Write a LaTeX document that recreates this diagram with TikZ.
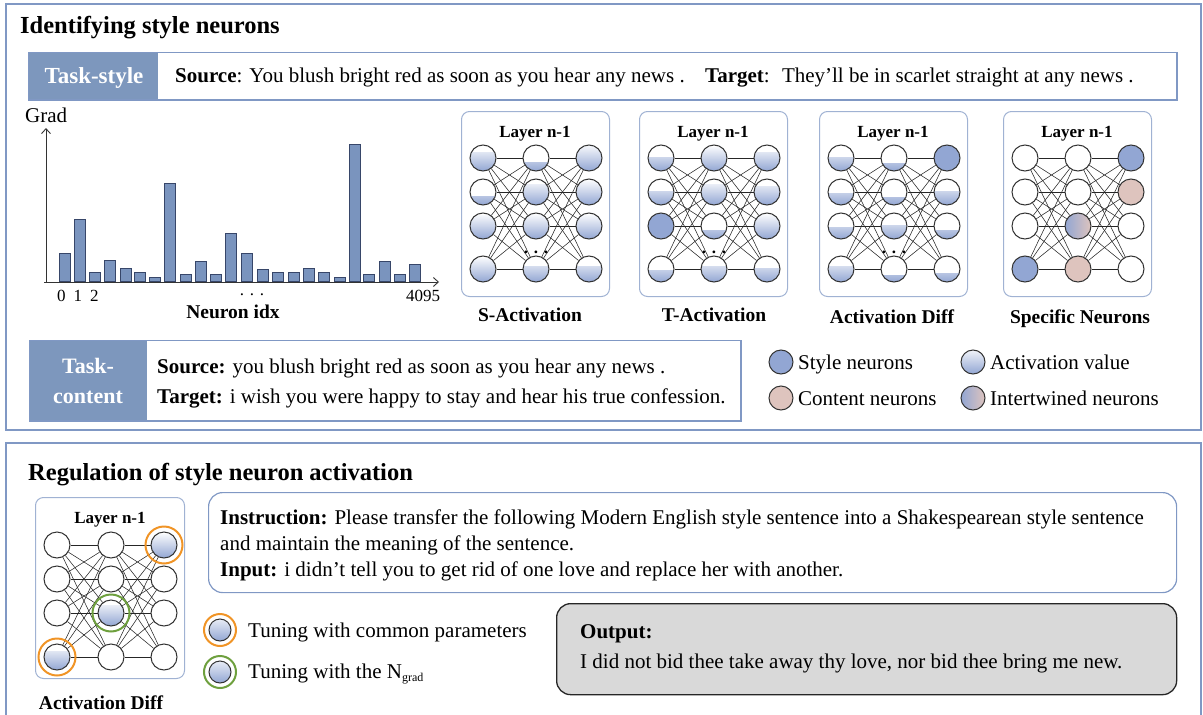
\documentclass[tikz,border=0pt]{standalone}
\usepackage{fontspec}
\setmainfont{Liberation Serif}
\definecolor{frameblue}{RGB}{128,152,196}
\definecolor{taskblue}{RGB}{125,151,189}
\definecolor{nblue}{RGB}{146,166,211}
\definecolor{npink}{RGB}{222,196,190}
\definecolor{barfill}{RGB}{122,148,190}
\definecolor{barline}{RGB}{55,70,105}
\definecolor{ringorange}{RGB}{240,148,38}
\definecolor{ringgreen}{RGB}{110,160,62}
\definecolor{outgray}{RGB}{217,217,217}
\newcommand{\fs}[1]{\fontsize{#1}{#1}\selectfont}
\tikzset{
  frame/.style={draw=frameblue, line width=1.2pt},
  tbox/.style={draw=frameblue, line width=1pt, fill=white, inner sep=0pt},
  tfill/.style={fill=taskblue, inner sep=0pt, text=white, font=\fs{22}\bfseries, align=center},
  netbox/.style={draw=frameblue!75, line width=1pt, rounded corners=8pt, inner sep=0pt},
  neu/.style={circle, draw=black!80, line width=1pt, minimum size=26pt, inner sep=0pt, fill=white},
  lv/.style={path picture={\shade[top color=white,bottom color=nblue] (path picture bounding box.south west) rectangle ([yshift={#1*24pt+4pt}]path picture bounding box.south east);}},
  wh/.style={},
  sty/.style={fill=nblue},
  cnt/.style={fill=npink},
  mix/.style={left color=nblue, right color=npink},
  apply/.style={#1},
  edge/.style={draw=black!85, line width=0.55pt},
  bar/.style={draw=barline, fill=barfill, line width=0.8pt},
  txt/.style={inner sep=0pt, anchor=base west, font=\fs{21}},
  lab/.style={inner sep=0pt, anchor=base, font=\fs{19.5}\bfseries},
  ring/.style={line width=2pt, draw=#1},
  axis/.style={line width=0.9pt, draw=black!80, -{Straight Barb[length=5pt,width=9pt]}},
}
\usetikzlibrary{arrows.meta}
\newcommand{\mynet}[4]{%
  \node[netbox, minimum width=148pt, minimum height=185pt, anchor=north west] (#1box) at (#2,#3) {};
  \node[inner sep=0pt, anchor=base, font=\fs{17}\bfseries] (#1lay) at (#2+74,#3+26) {Layer n-1};
  \foreach \nc/\nr/\nst in {#4} {
    \pgfmathsetmacro{\nx}{#2+{22,75,128}[\nc-1]}
    \pgfmathsetmacro{\ny}{#3+{47,81,115,158}[\nr-1]}
    \node[neu, apply/.expanded=\nst] (#1-\nc-\nr) at (\nx,\ny) {};
  }
  \foreach \i in {1,...,4}{\foreach \j in {1,...,4}{%
    \draw[edge] (#1-1-\i) -- (#1-2-\j);
    \draw[edge] (#1-2-\i) -- (#1-3-\j);}}
}
\begin{document}
\begin{tikzpicture}[x=1pt,y=-1pt]
\useasboundingbox (0,0) rectangle (1203,715);
% frames
\draw[frame] (6,4) rectangle (1201,430);
\draw[frame] (6,443) rectangle (1201,730);
\node[txt, font=\fs{24.5}\bfseries] (t1) at (20,33) {Identifying style neurons};
\node[txt, font=\fs{24.5}\bfseries] (t2) at (28,480) {Regulation of style neuron activation};

% task-style
\node[tbox, minimum width=1148pt, minimum height=47pt, anchor=north west] (tsbox) at (28,52) {};
\node[tfill, minimum width=130pt, minimum height=47pt, anchor=north west] (tslab) at (28,52) {};
\node[inner sep=0pt, anchor=base, text=white, font=\fs{23}\bfseries] (tstext) at (94,83) {Task-style};
\draw[draw=frameblue, line width=1pt] (tsbox.north west) rectangle (tsbox.south east);
\node[txt] (tssrc) at (175,82) {\textbf{Source}: You blush bright red as soon as you hear any news .};
\node[txt] (tstgt) at (705,82) {\textbf{Target}:~ They'll be in scarlet straight at any news .};

% bar chart
\coordinate (ax0) at (46,282);
\coordinate (ay1) at (46,128);
\coordinate (ax1) at (439,282);
\foreach \bx/\bt in {59/253, 74/219, 89/272, 104/260, 120/268, 134/272, 149/277, 164/183, 180/274, 195/261, 210/274, 225/233, 241/253, 257/269, 272/272, 288/272, 303/268, 318/272, 334/277, 349/144, 363/274, 379/261, 394/274, 409/264}
  \draw[bar] (\bx,281.5) rectangle (\bx+11.5,\bt);
\draw[axis] (ax0) -- (ay1);
\draw[axis] ([xshift=-2pt]ax0) -- (ax1);
\node[txt] (grad) at (25,122) {Grad};
\node[txt, font=\fs{17}] (x0) at (57,301) {0\hspace{8pt}1\hspace{8pt}2};
\node[inner sep=0pt, anchor=base, font=\fs{17}] (xd) at (252,295) {. . .};
\node[inner sep=0pt, anchor=base, font=\fs{17}] (x4) at (423,301) {4095};
\node[lab] (nidx) at (233,318) {Neuron idx};

% networks
\mynet{s}{461}{111}{1/1/lv=0.6, 1/2/lv=0.2, 1/3/lv=0.8, 1/4/lv=0.8, 2/1/lv=0.2, 2/2/lv=0.7, 2/3/lv=0.9, 2/4/lv=0.5, 3/1/lv=1, 3/2/lv=0.9, 3/3/lv=0.8, 3/4/lv=0.5}
\mynet{t}{639}{111}{1/1/lv=0.4, 1/2/lv=0.4, 1/3/sty, 1/4/lv=0.3, 2/1/lv=0.8, 2/2/lv=0.7, 2/3/lv=0.2, 2/4/lv=0.5, 3/1/lv=0.6, 3/2/lv=0.6, 3/3/lv=0.9, 3/4/lv=0.4}
\mynet{d}{819}{111}{1/1/lv=0.4, 1/2/lv=0.3, 1/3/lv=0.3, 1/4/lv=0.5, 2/1/lv=0.15, 2/2/lv=0.15, 2/3/lv=0.4, 2/4/lv=0.1, 3/1/sty, 3/2/lv=0.4, 3/3/lv=0.2, 3/4/lv=0.2}
\mynet{p}{1003}{111}{1/1/wh, 1/2/wh, 1/3/wh, 1/4/sty, 2/1/wh, 2/2/wh, 2/3/mix, 2/4/cnt, 3/1/sty, 3/2/cnt, 3/3/wh, 3/4/wh}
\foreach \nm/\xx in {s/536, t/714, d/894}
  \node[inner sep=0pt, anchor=base, font=\fs{17}\bfseries] (\nm dots) at (\xx,253) {. . .};
\node[lab] (sl) at (530,321) {S-Activation};
\node[lab] (tl) at (714,321) {T-Activation};
\node[lab] (dl) at (892,323) {Activation Diff};
\node[lab] (pl) at (1080,323) {Specific Neurons};

% task-content
\node[tbox, minimum width=711pt, minimum height=80pt, anchor=north west] (tcbox) at (29,340) {};
\node[tfill, minimum width=118pt, minimum height=80pt, anchor=north west] (tclab) at (29,340) {};
\node[inner sep=0pt, anchor=base, text=white, font=\fs{22}\bfseries] (tc1) at (88,373) {Task-};
\node[inner sep=0pt, anchor=base, text=white, font=\fs{22}\bfseries] (tc2) at (88,403) {content};
\draw[draw=frameblue, line width=1pt] (tcbox.north west) rectangle (tcbox.south east);
\node[txt] (tcsrc) at (157,373) {\textbf{Source:} you blush bright red as soon as you hear any news .};
\node[txt] (tctgt) at (157,403) {\textbf{Target:} i wish you were happy to stay and hear his true confession.};

% legend top
\node[neu, minimum size=24pt, sty] (lg1) at (781,362) {};
\node[neu, minimum size=24pt, cnt] (lg2) at (781,398) {};
\node[neu, minimum size=24pt, lv=1] (lg3) at (973,362) {};
\node[neu, minimum size=24pt, mix] (lg4) at (973,398) {};
\node[txt] (lgt1) at (798,369) {Style neurons};
\node[txt] (lgt2) at (798,405) {Content neurons};
\node[txt] (lgt3) at (990,369) {Activation value};
\node[txt] (lgt4) at (990,405) {Intertwined neurons};

% bottom network
\node[netbox, minimum width=149pt, minimum height=181pt, anchor=north west] (rbox) at (35,497) {};
\node[inner sep=0pt, anchor=base, font=\fs{17}\bfseries] (rlay) at (110,523) {Layer n-1};
\foreach \nc/\nr/\nst in {1/1/wh, 1/2/wh, 1/3/wh, 1/4/lv=0.6, 2/1/wh, 2/2/wh, 2/3/lv=0.7, 2/4/wh, 3/1/lv=0.8, 3/2/wh, 3/3/wh, 3/4/wh} {
  \pgfmathsetmacro{\nx}{{57,111,164}[\nc-1]}
  \pgfmathsetmacro{\ny}{{545,579,613,657}[\nr-1]}
  \node[neu, apply/.expanded=\nst] (r-\nc-\nr) at (\nx,\ny) {};
}
\foreach \i in {1,...,4}{\foreach \j in {1,...,4}{%
  \draw[edge] (r-1-\i) -- (r-2-\j);
  \draw[edge] (r-2-\i) -- (r-3-\j);}}
\draw[ring=ringorange] (r-3-1) circle (18.5pt);
\draw[ring=ringorange] (r-1-4) circle (18.5pt);
\draw[ring=ringgreen] (r-2-3) circle (18.5pt);
\node[lab] (rl) at (101,709) {Activation Diff};

% tuning legend
\node[neu, minimum size=22pt, lv=1] (tg1) at (220,630) {};
\node[neu, minimum size=22pt, lv=1] (tg2) at (220,672) {};
\draw[ring=ringorange] (tg1) circle (16pt);
\draw[ring=ringgreen] (tg2) circle (16pt);
\node[txt] (tgt1) at (248,637) {Tuning with common parameters};
\node[txt] (tgt2) at (248,678) {Tuning with the N\textsubscript{\fs{12}grad}};

% instruction
\node[draw=frameblue, line width=1.2pt, rounded corners=14pt, minimum width=968pt, minimum height=100pt, anchor=north west, inner sep=0pt] (ibox) at (208,492) {};
\node[txt] (i1) at (220,524) {\textbf{Instruction:} Please transfer the following Modern English style sentence into a Shakespearean style sentence};
\node[txt] (i2) at (220,550) {and maintain the meaning of the sentence.};
\node[txt] (i3) at (220,576) {\textbf{Input:} i didn't tell you to get rid of one love and replace her with another.};

% output
\node[draw=black!85, fill=outgray, line width=1.3pt, rounded corners=14pt, minimum width=620pt, minimum height=91pt, anchor=north west, inner sep=0pt] (obox) at (556,603) {};
\node[txt, font=\fs{21}\bfseries] (o1) at (580,638) {Output:};
\node[txt] (o2) at (580,668) {I did not bid thee take away thy love, nor bid thee bring me new.};
\end{tikzpicture}
\end{document}
